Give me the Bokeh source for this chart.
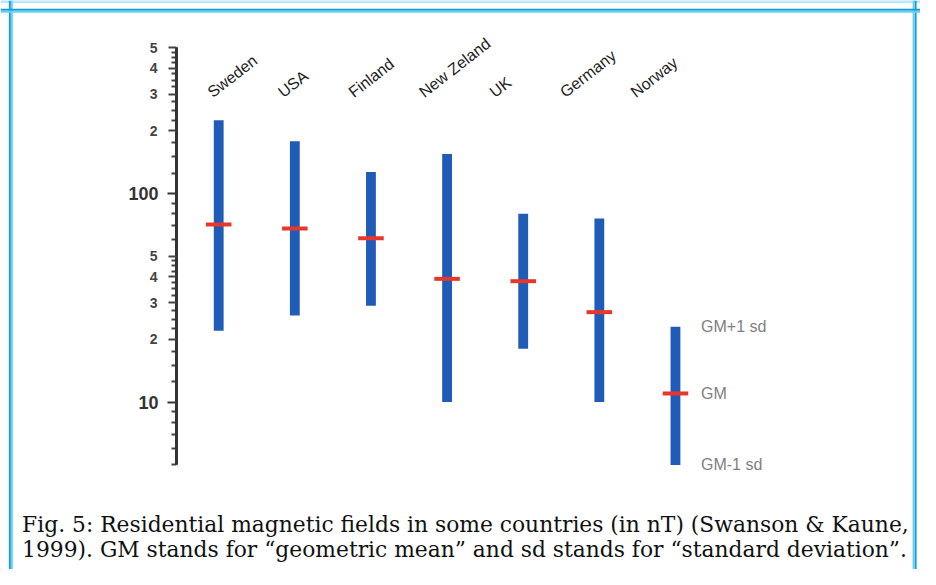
import math
from bokeh.plotting import figure
from bokeh.models import Range1d, LogAxis, FixedTicker, CustomJSTickFormatter, Span
from bokeh.core.properties import value
from bokeh.embed import file_html
from bokeh.resources import INLINE

# ---- data (nT) ----
countries = ["Sweden", "USA", "Finland", "New Zeland", "UK", "Germany", "Norway"]
gm_plus_sd = [225, 178, 127, 155, 80, 76, 23]
gm_values = [71, 68, 61, 39, 38, 27, 11]
gm_minus_sd = [22, 26, 29, 10, 18, 10, 5]

major_ticks = [10, 100]
digit_ticks = [20, 30, 40, 50, 200, 300, 400, 500]
minor_ticks = [5, 6, 7, 8, 9, 12.5, 15, 17.5, 22.5, 25, 27.5, 32.5, 35, 37.5,
               42.5, 45, 47.5, 60, 70, 80, 90, 125, 150, 175, 225, 250, 275,
               325, 350, 375, 425, 450, 475]
legend_texts = ["GM+1 sd", "GM", "GM-1 sd"]
caption_lines = [
    "Fig. 5: Residential magnetic fields in some countries (in nT) (Swanson & Kaune,",
    "1999). GM stands for \u201cgeometric mean\u201d and sd stands for \u201cstandard deviation\u201d.",
]

# ---- layout helpers (reference pixel -> data coords) ----
W, H = 920, 569
REF_W, REF_H = 936, 585
X0_PAGE, STEP = 222.0, 77.45      # x of first category, spacing (reference px)
Y100_PAGE, DECADE = 198.5, 214.4  # y of value 100, pixels per decade (reference px)


def xd(px):
    return (px - X0_PAGE) / STEP


def yd(py):
    return 10 ** (2 + (Y100_PAGE - py) / DECADE)


idx = list(range(len(countries)))

p = figure(width=W, height=H, output_backend="svg", toolbar_location=None,
           y_axis_type="log", x_axis_location=None, y_axis_location=None,
           x_range=Range1d(xd(0), xd(REF_W)), y_range=Range1d(yd(REF_H), yd(0)),
           min_border_left=0, min_border_right=0, min_border_top=0, min_border_bottom=0,
           background_fill_color="white", border_fill_color="white")
p.outline_line_color = None
p.xgrid.visible = False
p.ygrid.visible = False

# ---- frame border (double blue line) and page strip above ----
p.add_layout(Span(location=yd(1), dimension="width", line_color="#b8e8fa", line_width=3))
for loc, col in [(xd(9.5), "#1b9ad8"), (xd(11.5), "#62d2f7"),
                 (xd(931), "#1b9ad8"), (xd(929), "#62d2f7")]:
    p.add_layout(Span(location=loc, dimension="height", line_color=col, line_width=2))
for loc, col in [(yd(9.5), "#1b9ad8"), (yd(11.5), "#62d2f7")]:
    p.add_layout(Span(location=loc, dimension="width", line_color=col, line_width=2))

# ---- y axes (log, placed inside the frame) ----
axis_x = xd(179)
ax_main = LogAxis(fixed_location=axis_x, bounds=(5, 500),
                  ticker=FixedTicker(ticks=major_ticks, minor_ticks=minor_ticks),
                  formatter=CustomJSTickFormatter(code="return String(Math.round(tick));"))
ax_main.axis_line_color = "#333333"
ax_main.axis_line_width = 3
ax_main.major_tick_line_color = "#333333"
ax_main.major_tick_line_width = 2
ax_main.major_tick_out = 9
ax_main.major_tick_in = 0
ax_main.minor_tick_line_color = "#444444"
ax_main.minor_tick_line_width = 2
ax_main.minor_tick_out = 5
ax_main.minor_tick_in = 0
ax_main.major_label_text_font = "Liberation Sans"
ax_main.major_label_text_font_size = "18px"
ax_main.major_label_text_font_style = "bold"
ax_main.major_label_text_color = "#333333"
ax_main.major_label_standoff = 9
p.add_layout(ax_main, "left")

ax_dig = LogAxis(fixed_location=axis_x, bounds=(5, 500),
                 ticker=FixedTicker(ticks=digit_ticks, minor_ticks=[]),
                 formatter=CustomJSTickFormatter(
                     code="return String(Math.round(tick / Math.pow(10, Math.floor(Math.log10(tick) + 1e-9))));"))
ax_dig.axis_line_color = "#333333"
ax_dig.axis_line_width = 3
ax_dig.major_tick_line_color = "#444444"
ax_dig.major_tick_line_width = 2
ax_dig.major_tick_out = 8
ax_dig.major_tick_in = 0
ax_dig.minor_tick_line_color = None
ax_dig.major_label_text_font = "Liberation Sans"
ax_dig.major_label_text_font_size = "14px"
ax_dig.major_label_text_font_style = "bold"
ax_dig.major_label_text_color = "#444444"
ax_dig.major_label_standoff = 11
p.add_layout(ax_dig, "left")

# ---- bars and GM marks ----
p.vbar(x=idx, bottom=gm_minus_sd, top=gm_plus_sd, width=10 / STEP,
       fill_color="#1f5cb8", line_color=None)
p.rect(x=idx, y=gm_values, width=26 / STEP, height=4, height_units="screen",
       fill_color="#e8372a", line_color=None)

# ---- rotated country labels ----
label_x = [i + (-4 - 5.7 * i) / STEP for i in idx]
p.text(x=label_x, y=[yd(103)] * len(idx), text=countries, angle=38, angle_units="deg",
       text_font=value("Liberation Sans"), text_font_size="16px", text_color="#222222",
       text_align="left", text_baseline="bottom")

# ---- legend texts next to last bar ----
last = idx[-1]
p.text(x=[last + 26 / STEP] * 3, y=[gm_plus_sd[-1], gm_values[-1], gm_minus_sd[-1]],
       text=legend_texts, text_font=value("Liberation Sans"), text_font_size="16px",
       text_color="#808080", text_align="left", text_baseline="middle")

# ---- caption ----
p.text(x=[xd(22)] * 2, y=[yd(539), yd(564)], text=caption_lines,
       text_font=value("DejaVu Serif"), text_font_size="21.8px", text_color="#111111",
       text_align="left", text_baseline="alphabetic")

open("out.html", "w").write(file_html(p, INLINE))
